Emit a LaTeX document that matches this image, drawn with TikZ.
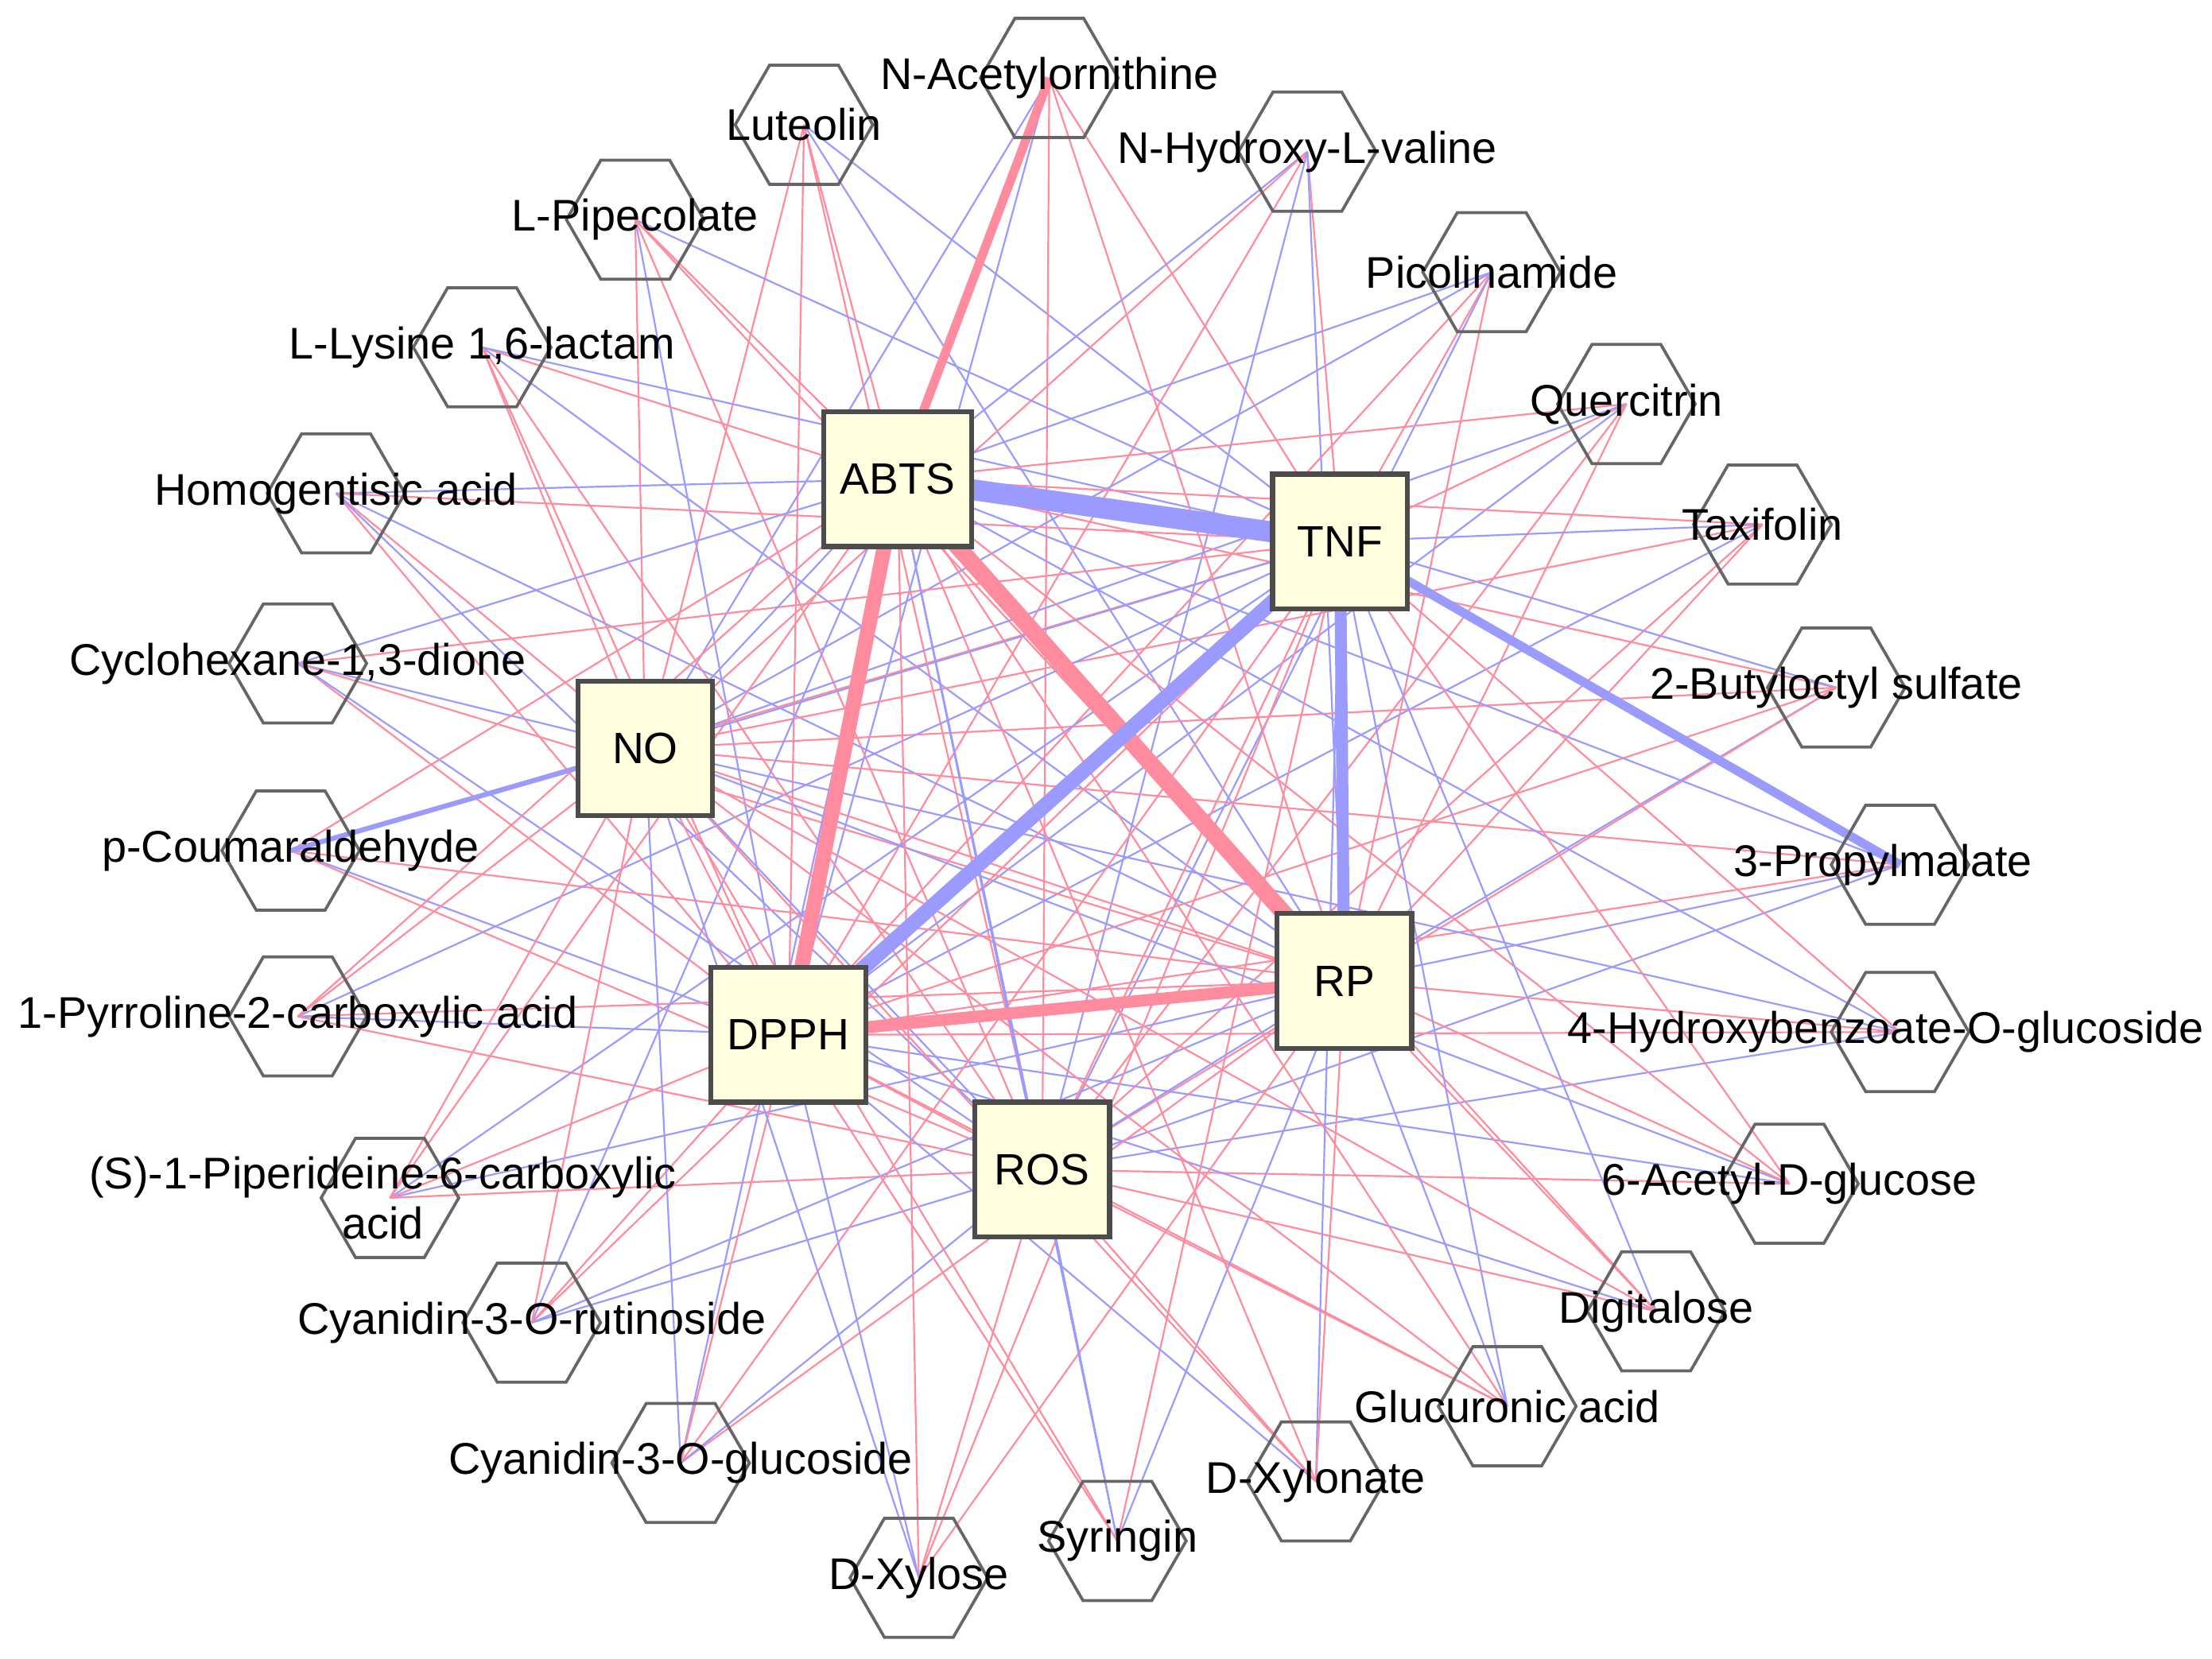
\documentclass[tikz,border=0pt]{standalone}
\usepackage{fontspec}
\setmainfont{Liberation Sans}
\usetikzlibrary{shapes.geometric,backgrounds}
\definecolor{pk}{HTML}{FF8C9E}
\definecolor{bl}{HTML}{9A9AFF}
\definecolor{sq}{HTML}{FFFFE0}
\tikzset{
 hex/.style={regular polygon,regular polygon sides=6,minimum size=0.97cm,inner sep=0pt,draw=black!60,line width=0.6pt},
 lab/.style={font=\fontsize{8.9}{10}\selectfont,align=center,inner sep=0pt},
 hub/.style={rectangle,draw=black!70,line width=1pt,fill=sq,minimum size=0.95cm,font=\fontsize{8.8}{10}\selectfont},
 thinp/.style={pk,line width=0.35pt},
 thinb/.style={bl,line width=0.35pt}
}
\begin{document}
\begin{tikzpicture}[x=0.01cm,y=-0.01cm]
\useasboundingbox (0,0) rectangle (1560,1170);
\foreach \x/\y/\dx/\t [count=\i] in {
567/88/0/Luteolin,
740/55/0/N-Acetylornithine,
922/107/0/N-Hydroxy-L-valine,
448/155/0/L-Pipecolate,
1052/192/0/Picolinamide,
340/245/0/{L-Lysine 1,6-lactam},
1147/285/0/Quercitrin,
237/348/0/Homogentisic acid,
1243/370/0/Taxifolin,
210/468/0/{Cyclohexane-1,3-dione},
1295/485/0/2-Butyloctyl sulfate,
205/600/0/p-Coumaraldehyde,
1340/610/-12/3-Propylmalate,
210/717/0/1-Pyrroline-2-carboxylic acid,
1340/728/-10/4-Hydroxybenzoate-O-glucoside,
275/845/-5/{(S)-1-Piperideine-6-carboxylic\\acid},
1262/835/0/6-Acetyl-D-glucose,
375/933/0/Cyanidin-3-O-rutinoside,
1168/925/0/Digitalose,
480/1032/0/Cyanidin-3-O-glucoside,
1063/992/0/Glucuronic acid,
648/1113/0/D-Xylose,
788/1087/0/Syringin,
928/1045/0/D-Xylonate}
{ \node[hex] (m\i) at (\x,\y) {}; \node[lab] (t\i) at (\x+\dx,\y) {\t}; }
\node[hub] (ABTS) at (633,338) {ABTS};
\node[hub] (TNF) at (945,382) {TNF};
\node[hub] (NO) at (455,528) {NO};
\node[hub] (RP) at (948,692) {RP};
\node[hub] (DPPH) at (556,730) {DPPH};
\node[hub] (ROS) at (735,825) {ROS};
\begin{pgfonlayer}{background}
\foreach \i in {1,...,24}{
 \foreach \h [count=\j] in {ABTS,TNF,NO,RP,DPPH,ROS}{
  \pgfmathtruncatemacro{\c}{mod(\i*7+\j*3,5)}
  \ifnum\c<3 \draw[thinp] (m\i.center) -- (\h.center);
  \else \draw[thinb] (m\i.center) -- (\h.center); \fi
 }}
\draw[thinb] (NO.center) -- (ABTS.center);
\draw[thinb] (NO.center) -- (TNF.center);
\draw[thinp] (NO.center) -- (RP.center);
\draw[thinb] (NO.center) -- (ROS.center);
\draw[thinp] (NO.center) -- (DPPH.center);
\draw[thinb] (ABTS.center) -- (ROS.center);
\draw[thinp] (TNF.center) -- (ROS.center);
\draw[thinb] (RP.center) -- (ROS.center);
\draw[thinp] (DPPH.center) -- (ROS.center);
\draw[bl,line width=4.2pt] (ABTS.center) -- (TNF.center);
\draw[pk,line width=3pt] (ABTS.center) -- (DPPH.center);
\draw[pk,line width=3.4pt] (ABTS.center) -- (RP.center);
\draw[bl,line width=3pt] (TNF.center) -- (DPPH.center);
\draw[bl,line width=2.4pt] (TNF.center) -- (RP.center);
\draw[pk,line width=2.4pt] (DPPH.center) -- (RP.center);
\draw[pk,line width=1.8pt] (ABTS.center) -- (m2.center);
\draw[bl,line width=1.8pt] (TNF.center) -- (m13.center);
\draw[bl,line width=1pt] (NO.center) -- (m12.center);
\end{pgfonlayer}
\end{tikzpicture}
\end{document}
